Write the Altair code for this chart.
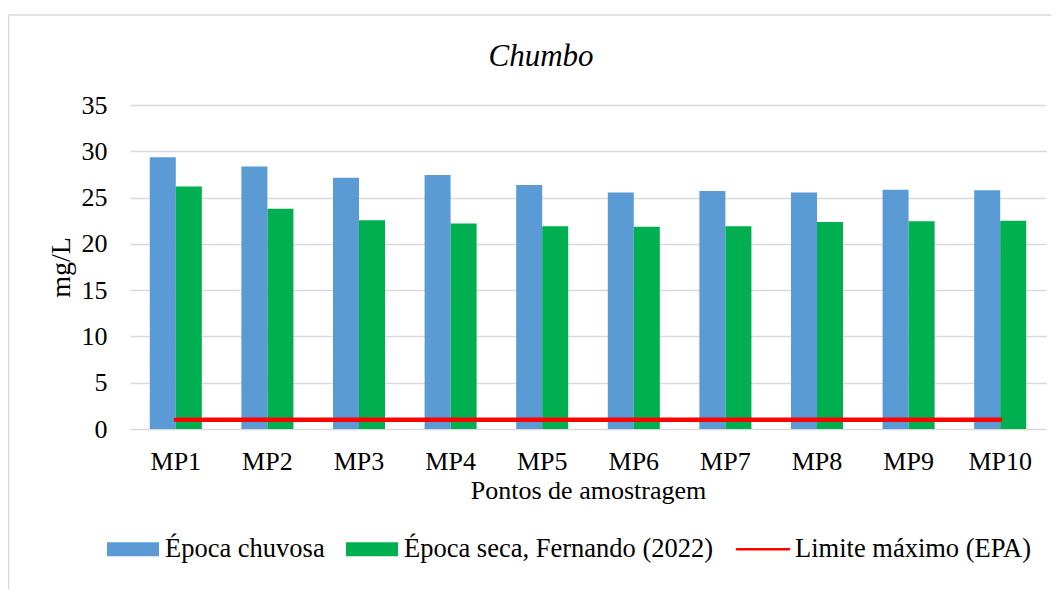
import altair as alt
import pandas as pd

pontos = ["MP1", "MP2", "MP3", "MP4", "MP5", "MP6", "MP7", "MP8", "MP9", "MP10"]
chuvosa = [29.35, 28.35, 27.15, 27.45, 26.35, 25.55, 25.7, 25.55, 25.85, 25.8]
seca = [26.2, 23.8, 22.55, 22.2, 21.9, 21.85, 21.9, 22.35, 22.45, 22.5]
limite = [1.0, 1.0, 1.0, 1.0, 1.0, 1.0, 1.0, 1.0, 1.0, 1.0]

series = ["Época chuvosa", "Época seca, Fernando (2022)", "Limite máximo (EPA)"]
cores = ["#5B9BD5", "#00B050", "#FF0000"]

bars = pd.DataFrame(
    [{"ponto": p, "serie": series[0], "valor": v} for p, v in zip(pontos, chuvosa)]
    + [{"ponto": p, "serie": series[1], "valor": v} for p, v in zip(pontos, seca)]
)
linha = pd.DataFrame([{"ponto": p, "serie": series[2], "valor": v} for p, v in zip(pontos, limite)])

FONT = "Liberation Serif"

rect_path = "M-1,-0.27L1,-0.27L1,0.27L-1,0.27Z"
line_path = "M-1,-0.05L1,-0.05A0.05,0.05 0 0 1 1,0.05L-1,0.05A0.05,0.05 0 0 1 -1,-0.05Z"

color = alt.Color(
    "serie:N",
    scale=alt.Scale(domain=series, range=cores),
    legend=alt.Legend(
        title=None,
        orient="none",
        direction="horizontal",
        legendX=-23,
        legendY=418,
        symbolSize=2704,
        symbolStrokeWidth=0,
        symbolType={"expr": f"datum.value == '{series[2]}' ? '{line_path}' : '{rect_path}'"},
        labelFont=FONT,
        labelFontSize=26.5,
        labelColor="black",
        labelOffset=6,
        columnPadding=21,
        labelLimit=0,
    ),
)

x = alt.X(
    "ponto:N",
    sort=pontos,
    scale=alt.Scale(paddingInner=0.432, paddingOuter=0.216),
    axis=alt.Axis(
        title="Pontos de amostragem",
        labelAngle=0,
        labelFont=FONT,
        labelFontSize=26,
        labelColor="black",
        labelPadding=19,
        titleFont=FONT,
        titleFontSize=26,
        titleFontWeight="normal",
        titleColor="black",
        titlePadding=3,
        domain=False,
        ticks=False,
        grid=False,
    ),
)

y = alt.Y(
    "valor:Q",
    scale=alt.Scale(domain=[0, 35]),
    axis=alt.Axis(
        title="mg/L",
        values=[0, 5, 10, 15, 20, 25, 30, 35],
        labelFont=FONT,
        labelFontSize=26,
        labelColor="black",
        labelPadding=23,
        titleFont=FONT,
        titleFontSize=28,
        titleFontWeight="normal",
        titleColor="black",
        titlePadding=6,
        domain=False,
        ticks=False,
        grid=True,
        gridColor="#d9d9d9",
        gridWidth=1.5,
    ),
)

barras = alt.Chart(bars).mark_bar().encode(
    x=x,
    xOffset=alt.XOffset("serie:N", sort=series[:2]),
    y=y,
    color=color,
)

limite_linha = alt.Chart(linha).mark_line(strokeWidth=4.5, strokeCap="round").encode(
    x=x,
    y=y,
    color=color,
)

frame_data = alt.Data(values=[{"k": 0}])
frame_left = alt.Chart(frame_data).mark_rule(color="#d9d9d9", strokeWidth=1.5).encode(
    x=alt.value(-121.5), y=alt.value(-90), y2=alt.value(500)
)
frame_top = alt.Chart(frame_data).mark_rule(color="#d9d9d9", strokeWidth=1.5).encode(
    x=alt.value(-121.5), x2=alt.value(940), y=alt.value(-90)
)

chart = (
    alt.layer(frame_left, frame_top, barras, limite_linha)
    .properties(
        width=916,
        height=324,
        autosize=alt.AutoSizeParams(type="none"),
        padding={"left": 122, "top": 97, "right": 5, "bottom": 160},
        title=alt.TitleParams(
            "Chumbo",
            font=FONT,
            fontSize=31,
            fontStyle="italic",
            fontWeight="normal",
            color="black",
            anchor="middle",
            baseline="alphabetic",
            dx=-47,
            dy=103,
            offset=20,
        ),
    )
    .configure(background="white", font=FONT)
    .configure_view(stroke=None)
    .configure_axis(labelFont=FONT, titleFont=FONT, titleFontWeight="normal")
    .configure_legend(labelFont=FONT)
    .configure_title(font=FONT)
)

chart.save("out.html", embed_options={"renderer": "svg", "actions": False})
